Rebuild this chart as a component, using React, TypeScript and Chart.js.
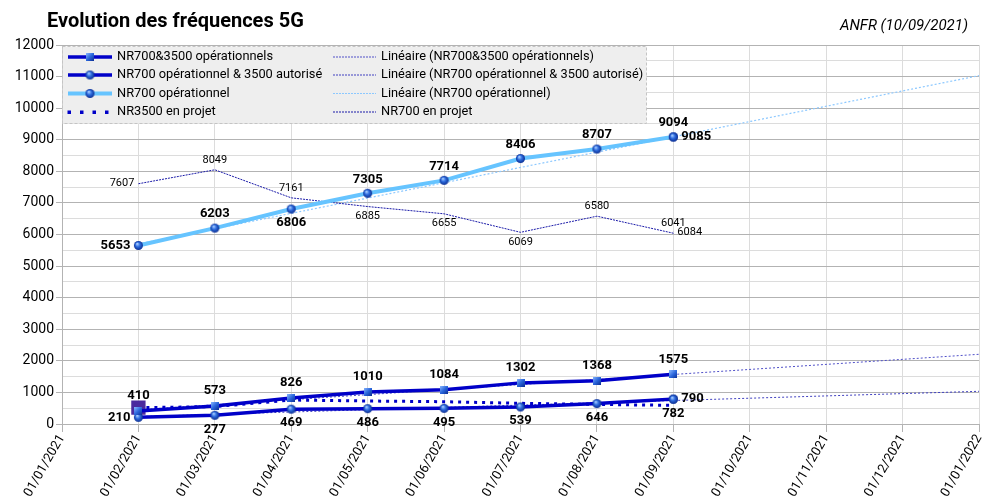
import React, { useEffect, useRef } from 'react';
import { Chart, registerables } from 'chart.js';

Chart.register(...registerables);

// ---------- Data ----------
const monthLabels = [
  '01/01/2021', '01/02/2021', '01/03/2021', '01/04/2021', '01/05/2021', '01/06/2021',
  '01/07/2021', '01/08/2021', '01/09/2021', '01/10/2021', '01/11/2021', '01/12/2021', '01/01/2022',
];
// month index of each observation (last month has two readings)
const obsIdx = [1, 2, 3, 4, 5, 6, 7, 8, 8];

const nr700_3500Ops = [410, 573, 826, 1010, 1084, 1302, 1368, 1575];
const nr700Op3500Aut = [210, 277, 469, 486, 495, 539, 646, 790, 782];
const nr700Op = [5653, 6203, 6806, 7305, 7714, 8406, 8707, 9094, 9085];
const nr3500Projet = [516, 550, 760, 728, 706, 655, 620, 590];
const nr700Projet = [7607, 8049, 7161, 6885, 6655, 6069, 6580, 6041, 6084];

const trendIdx = [1, 12];
const trendOps3500 = [450, 2207];
const trendAut3500 = [234, 1035];
const trendNr700Op = [5700, 11030];

const yTicksMax = 12000;

// ---------- Label placement (style) ----------
const posOps3500 = ['above', 'above', 'above', 'above', 'above', 'above', 'above', 'above'];
const posAut3500 = ['left', 'below', 'below', 'below', 'below', 'below', 'below', 'right', 'below'];
const posNr700Op = ['left', 'above', 'below', 'above', 'above', 'above', 'above', 'above', 'right'];
const posNr700Projet = ['left', 'above', 'above', 'below', 'below', 'below', 'above', 'above', 'right'];

const FONT = 'Roboto, "DejaVu Sans", sans-serif';
const DARK = '#0000c8';
const LIGHT = '#66c4ff';

const toPts = (vals: number[], idx: number[]) => vals.map((v, i) => ({ x: idx[i], y: v }));

function makeSphere(r: number): HTMLCanvasElement {
  const c = document.createElement('canvas');
  const s = r * 2 + 2;
  c.width = s;
  c.height = s;
  const g = c.getContext('2d')!;
  const grad = g.createRadialGradient(s * 0.38, s * 0.34, 0.4, s / 2, s / 2, r);
  grad.addColorStop(0, '#a8ccff');
  grad.addColorStop(0.45, '#2f6ee0');
  grad.addColorStop(1, '#0a2c92');
  g.fillStyle = grad;
  g.beginPath();
  g.arc(s / 2, s / 2, r, 0, Math.PI * 2);
  g.fill();
  return c;
}

function makeSquare(sz: number): HTMLCanvasElement {
  const c = document.createElement('canvas');
  c.width = sz;
  c.height = sz;
  const g = c.getContext('2d')!;
  const grad = g.createLinearGradient(0, 0, sz, sz);
  grad.addColorStop(0, '#8ab8ff');
  grad.addColorStop(0.5, '#2a66dc');
  grad.addColorStop(1, '#0a2c92');
  g.fillStyle = grad;
  g.fillRect(0, 0, sz, sz);
  return c;
}

export default function App() {
  const ref = useRef<HTMLCanvasElement | null>(null);

  useEffect(() => {
    if (!ref.current) return;
    const sphere = makeSphere(4.5);
    const square = makeSquare(8);

    const labelPlugin = {
      id: 'pointLabels',
      afterDatasetsDraw(chart: any) {
        const ctx = chart.ctx;
        chart.data.datasets.forEach((ds: any, i: number) => {
          if (!ds.labelPos) return;
          const meta = chart.getDatasetMeta(i);
          ctx.save();
          ctx.font = ds.labelFont;
          ctx.fillStyle = '#000';
          meta.data.forEach((el: any, j: number) => {
            const pos = ds.labelPos[j];
            const txt = String(ds.data[j].y);
            const gv = ds.labelGapV;
            const gh = ds.labelGapH;
            ctx.textBaseline = 'middle';
            if (pos === 'above') {
              ctx.textAlign = 'center';
              ctx.fillText(txt, el.x, el.y - gv);
            } else if (pos === 'below') {
              ctx.textAlign = 'center';
              ctx.fillText(txt, el.x, el.y + gv);
            } else if (pos === 'left') {
              ctx.textAlign = 'right';
              ctx.fillText(txt, el.x - gh, el.y);
            } else if (pos === 'right') {
              ctx.textAlign = 'left';
              ctx.fillText(txt, el.x + gh, el.y);
            }
          });
          ctx.restore();
        });
      },
    };

    const decorPlugin = {
      id: 'decor',
      afterDraw(chart: any) {
        const ctx = chart.ctx;
        ctx.save();
        // title
        ctx.fillStyle = '#000';
        ctx.font = `bold 20px ${FONT}`;
        ctx.textAlign = 'left';
        ctx.textBaseline = 'middle';
        ctx.fillText('Evolution des fréquences 5G', 47, 22);
        ctx.font = `italic 15px ${FONT}`;
        ctx.textAlign = 'right';
        ctx.fillText('ANFR (10/09/2021)', 968, 26);

        // legend box
        const bx = 62.5, by = 46.5, bw = 584, bh = 77;
        ctx.fillStyle = '#eeeeee';
        ctx.fillRect(bx, by, bw, bh);
        ctx.strokeStyle = '#c4c4c4';
        ctx.lineWidth = 1;
        ctx.setLineDash([3, 2]);
        ctx.strokeRect(bx, by, bw, bh);
        ctx.setLineDash([]);

        const rows = [57, 75, 93.5, 112];
        const c1a = 68, c1b = 112, c1t = 117;
        const c2a = 333, c2b = 376, c2t = 381;
        ctx.font = `12.8px ${FONT}`;
        ctx.textAlign = 'left';
        ctx.textBaseline = 'middle';

        // col 1
        const solid = (y: number, color: string, w: number) => {
          ctx.strokeStyle = color;
          ctx.lineWidth = w;
          ctx.beginPath();
          ctx.moveTo(c1a, y);
          ctx.lineTo(c1b, y);
          ctx.stroke();
        };
        solid(rows[0], DARK, 3.5);
        ctx.drawImage(square, 90 - 4, rows[0] - 4);
        solid(rows[1], DARK, 3.5);
        ctx.drawImage(sphere, 90 - 5.5, rows[1] - 5.5);
        solid(rows[2], LIGHT, 4);
        ctx.drawImage(sphere, 90 - 5.5, rows[2] - 5.5);
        ctx.fillStyle = DARK;
        [69, 81.5, 94, 106.5].forEach((x) => ctx.fillRect(x - 1.5, rows[3] - 1.5, 3.5, 3.5));

        ctx.fillStyle = '#000';
        ctx.fillText('NR700&3500 opérationnels', c1t, rows[0]);
        ctx.fillText('NR700 opérationnel & 3500 autorisé', c1t, rows[1]);
        ctx.fillText('NR700 opérationnel', c1t, rows[2]);
        ctx.fillText('NR3500 en projet', c1t, rows[3]);

        // col 2
        const dotted = (y: number, color: string, dash: number[]) => {
          ctx.strokeStyle = color;
          ctx.lineWidth = 1;
          ctx.setLineDash(dash);
          ctx.beginPath();
          ctx.moveTo(c2a, y);
          ctx.lineTo(c2b, y);
          ctx.stroke();
          ctx.setLineDash([]);
        };
        dotted(rows[0], '#5050c8', [2, 1]);
        dotted(rows[1], '#4040c0', [2, 1]);
        dotted(rows[2], '#8cc8ff', [2, 1]);
        dotted(rows[3], '#1a1aa8', [2, 1]);
        ctx.fillStyle = '#000';
        ctx.fillText('Linéaire (NR700&3500 opérationnels)', c2t, rows[0]);
        ctx.fillText('Linéaire (NR700 opérationnel & 3500 autorisé)', c2t, rows[1]);
        ctx.fillText('Linéaire (NR700 opérationnel)', c2t, rows[2]);
        ctx.fillText('NR700 en projet', c2t, rows[3]);
        ctx.restore();
      },
    };

    const boldLbl = `bold 13px ${FONT}`;
    const thinLbl = `11px ${FONT}`;

    const chart = new Chart(ref.current, {
      type: 'line',
      data: {
        datasets: [
          {
            label: 'NR700&3500 opérationnels',
            data: toPts(nr700_3500Ops, obsIdx),
            borderColor: DARK,
            borderWidth: 3.5,
            pointStyle: square as any,
            pointRadius: 5,
            tension: 0,
            labelPos: posOps3500,
            labelFont: boldLbl,
            labelGapV: 15,
            labelGapH: 8,
          } as any,
          {
            label: 'NR700 opérationnel & 3500 autorisé',
            data: toPts(nr700Op3500Aut, obsIdx),
            borderColor: DARK,
            borderWidth: 3.5,
            pointStyle: sphere as any,
            pointRadius: 5,
            tension: 0,
            labelPos: posAut3500,
            labelFont: boldLbl,
            labelGapV: 14,
            labelGapH: 8,
          } as any,
          {
            label: 'NR700 opérationnel',
            data: toPts(nr700Op, obsIdx),
            borderColor: LIGHT,
            borderWidth: 4,
            pointStyle: sphere as any,
            pointRadius: 5,
            tension: 0,
            labelPos: posNr700Op,
            labelFont: boldLbl,
            labelGapV: 14,
            labelGapH: 8,
          } as any,
          {
            label: 'NR3500 en projet',
            data: toPts(nr3500Projet, obsIdx),
            borderColor: DARK,
            borderWidth: 3,
            borderDash: [3, 5],
            pointStyle: 'rect',
            pointRadius: nr3500Projet.map((_, i) => (i === 0 ? 8 : 0)),
            pointBackgroundColor: '#4b2a9e',
            pointBorderColor: '#4b2a9e',
            tension: 0,
          } as any,
          {
            label: 'NR700 en projet',
            data: toPts(nr700Projet, obsIdx),
            borderColor: '#1a1aa8',
            borderWidth: 1,
            borderDash: [2, 1],
            pointRadius: 0,
            tension: 0,
            labelPos: posNr700Projet,
            labelFont: thinLbl,
            labelGapV: 9.5,
            labelGapH: 4,
          } as any,
          {
            label: 'Linéaire (NR700&3500 opérationnels)',
            data: toPts(trendOps3500, trendIdx),
            borderColor: '#5050c8',
            borderWidth: 1,
            borderDash: [2, 2],
            pointRadius: 0,
          },
          {
            label: 'Linéaire (NR700 opérationnel & 3500 autorisé)',
            data: toPts(trendAut3500, trendIdx),
            borderColor: '#4040c0',
            borderWidth: 1,
            borderDash: [2, 2],
            pointRadius: 0,
          },
          {
            label: 'Linéaire (NR700 opérationnel)',
            data: toPts(trendNr700Op, trendIdx),
            borderColor: '#8cc8ff',
            borderWidth: 1.2,
            borderDash: [2, 2],
            pointRadius: 0,
          },
        ],
      },
      options: {
        animation: false,
        responsive: false,
        layout: { padding: { top: 45, right: 24, left: 0, bottom: 0 } },
        plugins: {
          legend: { display: false },
          title: { display: false },
          tooltip: { enabled: false },
        },
        scales: {
          x: {
            type: 'linear',
            min: 0,
            max: monthLabels.length - 1,
            afterFit: (s: any) => {
              s.height = 75;
            },
            border: { color: '#b3b3b3' },
            grid: {
              color: '#dcdcdc',
              tickColor: '#b3b3b3',
              tickLength: 8,
            },
            ticks: {
              stepSize: 1,
              autoSkip: false,
              minRotation: 60,
              maxRotation: 60,
              padding: 0,
              color: '#000',
              font: { family: FONT, size: 13 },
              callback: (v: any) => monthLabels[v as number] ?? '',
            },
          },
          y: {
            type: 'linear',
            min: 0,
            max: yTicksMax,
            afterFit: (s: any) => {
              s.width = 62;
            },
            border: { color: '#b3b3b3' },
            grid: {
              color: (c: any) => (c.tick && c.tick.value % 1000 === 0 ? '#b3b3b3' : '#dcdcdc'),
              tickColor: (c: any) => (c.tick && c.tick.value % 1000 === 0 ? '#b3b3b3' : 'rgba(0,0,0,0)'),
              tickLength: 6,
            },
            ticks: {
              stepSize: 500,
              autoSkip: false,
              padding: 2,
              color: '#000',
              font: { family: FONT, size: 14 },
              callback: (v: any) => (Number(v) % 1000 === 0 ? String(v) : ''),
            },
          },
        },
      },
      plugins: [labelPlugin, decorPlugin],
    });

    return () => chart.destroy();
  }, []);

  return (
    <div style={{ position: 'fixed', left: 0, top: 0, width: 1003, height: 499, background: '#fff' }}>
      <canvas ref={ref} width={1003} height={499} />
    </div>
  );
}
